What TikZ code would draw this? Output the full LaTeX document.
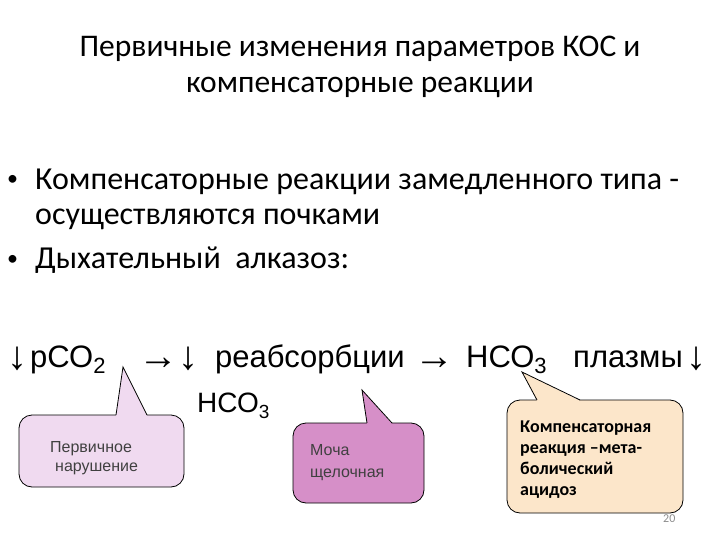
\documentclass[tikz,border=0pt]{standalone}
\usepackage{fontspec}
\setmainfont{Carlito}
\newfontfamily\arialfont{Liberation Sans}
\newfontfamily\arrowfont{Liberation Serif}
\usepackage{xcolor}
\usetikzlibrary{positioning}

\definecolor{pinkA}{RGB}{240,218,240}
\definecolor{orchidB}{RGB}{214,143,200}
\definecolor{creamC}{RGB}{252,230,202}

\newcommand{\lowsub}[2]{\raisebox{-6pt}{\fontsize{#1}{#1}\selectfont #2}}

\begin{document}
\begin{tikzpicture}[x=1pt, y=-1pt,
  ttl/.style={font=\fontsize{31.5}{36}\selectfont, anchor=base, inner sep=0pt},
  dot/.style={font=\fontsize{22}{22}\selectfont, anchor=base west, inner sep=0pt},
  blt/.style={font=\fontsize{32}{34}\selectfont, anchor=base west, inner sep=0pt},
  frm/.style={font=\arialfont\fontsize{31}{34}\selectfont, anchor=base west, inner sep=0pt},
  arw/.style={font=\arrowfont\fontsize{40}{40}\selectfont, anchor=base west, inner sep=0pt},
  btxt/.style={font=\arialfont\fontsize{16}{18}\selectfont, text=black!75, anchor=base west, inner sep=0pt},
  ctxt/.style={font=\bfseries\fontsize{18}{21}\selectfont, anchor=base west, inner sep=0pt},
  bubble/.style={draw=black, line width=0.8pt, rounded corners=13pt},
  tip/.style={draw=black, line width=0.8pt}]
\useasboundingbox (0,0) rectangle (720,540);

\node[ttl] (t1) at (360,57) {Первичные изменения параметров КОС и};
\node[ttl] (t2) at (360,93) {компенсаторные реакции};

\node[dot] (b1) at (7,186) {•};
\node[blt] (l1) at (35,190) {Компенсаторные реакции замедленного типа -};
\node[blt] (l2) at (35,225) {осуществляются почками};
\node[dot] (b2) at (7,265) {•};
\node[blt] (l3) at (35,268) {Дыхательный\ \ алказоз:};

\node[arw] (a1) at (7,369) {↓};
\node[frm] (f1) at (30,367) {рСО\lowsub{22}{2}};
\node[arw] (a2) at (138,369) {→↓};
\node[frm] (f2) at (215,367) {реабсорбции};
\node[arw] (a3) at (414,369) {→};
\node[frm] (f3) at (466,367) {НСО\lowsub{22}{3}};
\node[frm] (f4) at (573,367) {плазмы};
\node[arw] (a4) at (686,369) {↓};
\node[frm, font=\arialfont\fontsize{28}{30}\selectfont] (f5) at (197,412) {НСО\lowsub{19}{3}};

\node[font=\fontsize{12}{12}\selectfont, text=black!45, anchor=base west, inner sep=0pt] (pg) at (663,522) {20};

\filldraw[bubble, fill=pinkA] (19,415) rectangle (184,487);
\fill[pinkA] (116,415.8) -- (123,367) -- (147,415.8) -- cycle;
\draw[tip] (116,415) -- (123,367) -- (147,415);

\filldraw[bubble, fill=orchidB] (293,423) rectangle (424,503);
\fill[orchidB] (367,423.8) -- (362,390) -- (392,423.8) -- cycle;
\draw[tip] (367,423) -- (362,390) -- (392,423);

\filldraw[bubble, fill=creamC] (507,400) rectangle (683,513);
\fill[creamC] (537,400.8) -- (522,372) -- (580,400.8) -- cycle;
\draw[tip] (537,400) -- (522,372) -- (580,400);

\node[btxt] (p1) at (50,452) {Первичное};
\node[btxt] (p2) at (55,471) {нарушение};
\node[btxt] (m1) at (310,455) {Моча};
\node[btxt] (m2) at (310,477) {щелочная};
\node[ctxt] (k1) at (520,432) {Компенсаторная};
\node[ctxt] (k2) at (520,453) {реакция –мета-};
\node[ctxt] (k3) at (520,474) {болический};
\node[ctxt] (k4) at (520,495) {ацидоз};
\end{tikzpicture}
\end{document}
